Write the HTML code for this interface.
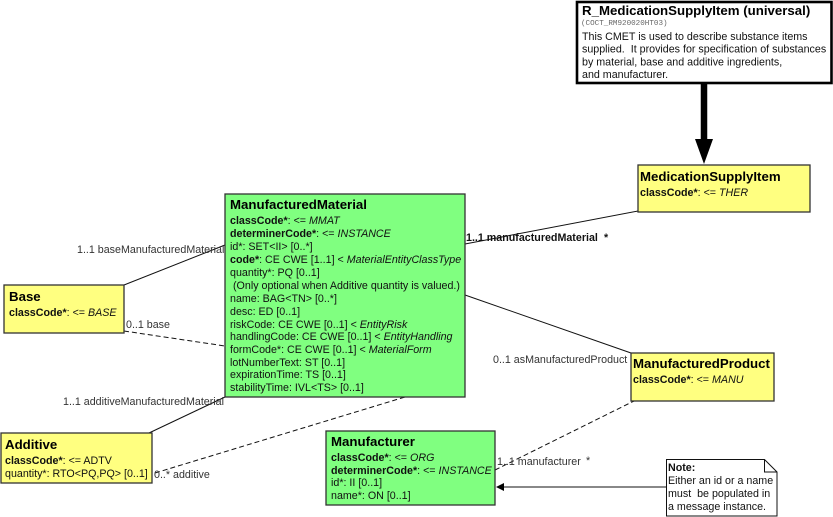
<!DOCTYPE html>
<html><head><meta charset="utf-8">
<style>
html,body{margin:0;padding:0;background:#fff}
svg{display:block}
text{font-family:"Liberation Sans",sans-serif;font-size:10.7px;fill:#111;white-space:pre}
.t{font-size:13.25px;font-weight:bold;fill:#000}
.b{font-weight:bold}
.i{font-style:italic}
.l{fill:#333}
.box{stroke:#333;stroke-width:1.3}
</style></head>
<body>
<svg width="833" height="517" viewBox="0 0 833 517" xmlns="http://www.w3.org/2000/svg">
<!-- connectors -->
<g stroke="#111" fill="none" stroke-width="1">
<line x1="124" y1="285" x2="225" y2="245"/>
<line x1="124" y1="331" x2="225" y2="346" stroke-dasharray="5 3"/>
<line x1="149" y1="433" x2="225" y2="397"/>
<line x1="155" y1="473" x2="405" y2="397" stroke-dasharray="5 3"/>
<line x1="465" y1="244" x2="638" y2="211"/>
<line x1="465" y1="295" x2="631" y2="353"/>
<line x1="495" y1="470" x2="634" y2="401" stroke-dasharray="5 3"/>
<line x1="500" y1="487" x2="666" y2="487"/>
</g>
<polygon points="496,487 504,483 504,491" fill="#000"/>
<line x1="704" y1="83" x2="704" y2="142" stroke="#000" stroke-width="6.5"/>
<polygon points="695,139 713,139 704,164" fill="#000"/>

<!-- R box -->
<rect x="577" y="2" width="254.5" height="81" fill="#fff" stroke="#000" stroke-width="2.6"/>
<text class="t" x="582" y="15">R_MedicationSupplyItem (universal)</text>
<text x="581" y="25" style="font-family:'Liberation Mono',monospace;font-size:7.6px;fill:#666">(COCT_RM920020HT03)</text>
<text x="582" y="40">This CMET is used to describe substance items</text>
<text x="582" y="52.5">supplied.  It provides for specification of substances</text>
<text x="582" y="65.5">by material, base and additive ingredients,</text>
<text x="582" y="78">and manufacturer.</text>

<!-- MedicationSupplyItem -->
<rect class="box" x="638" y="165" width="172" height="47" fill="#ffff80"/>
<text class="t" x="640" y="181">MedicationSupplyItem</text>
<text x="640" y="196"><tspan class="b">classCode*</tspan>: &lt;= <tspan class="i">THER</tspan></text>

<!-- ManufacturedMaterial -->
<rect class="box" x="225" y="194" width="240" height="203" fill="#80ff80"/>
<text class="t" x="230" y="209">ManufacturedMaterial</text>
<text x="230" y="224"><tspan class="b">classCode*</tspan>: &lt;= <tspan class="i">MMAT</tspan></text>
<text x="230" y="237"><tspan class="b">determinerCode*</tspan>: &lt;= <tspan class="i">INSTANCE</tspan></text>
<text x="230" y="250">id*: SET&lt;II&gt; [0..*]</text>
<text x="230" y="263"><tspan class="b">code*</tspan>: CE CWE [1..1] &lt; <tspan class="i">MaterialEntityClassType</tspan></text>
<text x="230" y="276">quantity*: PQ [0..1]</text>
<text x="233" y="289">(Only optional when Additive quantity is valued.)</text>
<text x="230" y="302">name: BAG&lt;TN&gt; [0..*]</text>
<text x="230" y="315">desc: ED [0..1]</text>
<text x="230" y="328">riskCode: CE CWE [0..1] &lt; <tspan class="i">EntityRisk</tspan></text>
<text x="230" y="340">handlingCode: CE CWE [0..1] &lt; <tspan class="i">EntityHandling</tspan></text>
<text x="230" y="353">formCode*: CE CWE [0..1] &lt; <tspan class="i">MaterialForm</tspan></text>
<text x="230" y="366">lotNumberText: ST [0..1]</text>
<text x="230" y="378">expirationTime: TS [0..1]</text>
<text x="230" y="391">stabilityTime: IVL&lt;TS&gt; [0..1]</text>

<!-- Base -->
<rect class="box" x="4" y="285" width="120" height="48" fill="#ffff80"/>
<text class="t" x="9" y="301">Base</text>
<text x="9" y="316"><tspan class="b">classCode*</tspan>: &lt;= <tspan class="i">BASE</tspan></text>

<!-- Additive -->
<rect class="box" x="1" y="433" width="151" height="50" fill="#ffff80"/>
<text class="t" x="5" y="449">Additive</text>
<text x="5" y="464"><tspan class="b">classCode*</tspan>: &lt;= ADTV</text>
<text x="5" y="477">quantity*: RTO&lt;PQ,PQ&gt; [0..1]</text>

<!-- Manufacturer -->
<rect class="box" x="326" y="431" width="169" height="74" fill="#80ff80"/>
<text class="t" x="331" y="446">Manufacturer</text>
<text x="331" y="461"><tspan class="b">classCode*</tspan>: &lt;= <tspan class="i">ORG</tspan></text>
<text x="331" y="474"><tspan class="b">determinerCode*</tspan>: &lt;= <tspan class="i">INSTANCE</tspan></text>
<text x="331" y="486">id*: II [0..1]</text>
<text x="331" y="499">name*: ON [0..1]</text>

<!-- ManufacturedProduct -->
<rect class="box" x="631" y="353" width="143" height="48" fill="#ffff80"/>
<text class="t" x="633" y="368">ManufacturedProduct</text>
<text x="633" y="383"><tspan class="b">classCode*</tspan>: &lt;= <tspan class="i">MANU</tspan></text>

<!-- Note -->
<path d="M666.5 459.5H764.5L777 472V516H666.5Z" fill="#fff" stroke="#111"/>
<path d="M764.5 459.5V472H777" fill="none" stroke="#111"/>
<text x="668" y="471" class="b">Note:</text>
<text x="668" y="484">Either an id or a name</text>
<text x="668" y="497">must  be populated in</text>
<text x="668" y="510">a message instance.</text>

<!-- labels -->
<text class="l" x="77" y="253">1..1 baseManufacturedMaterial</text>
<text class="l" x="126" y="328">0..1 base</text>
<text class="l" x="63" y="405">1..1 additiveManufacturedMaterial</text>
<text class="l" x="154" y="478">0..* additive</text>
<text class="b" x="466" y="241">1..1 manufacturedMaterial</text>
<text class="b" x="604" y="241">*</text>
<text class="l" x="493" y="363">0..1 asManufacturedProduct</text>
<text class="l" x="497" y="465">1..1 manufacturer</text>
<text class="l" x="586" y="464">*</text>
</svg>
</body></html>
